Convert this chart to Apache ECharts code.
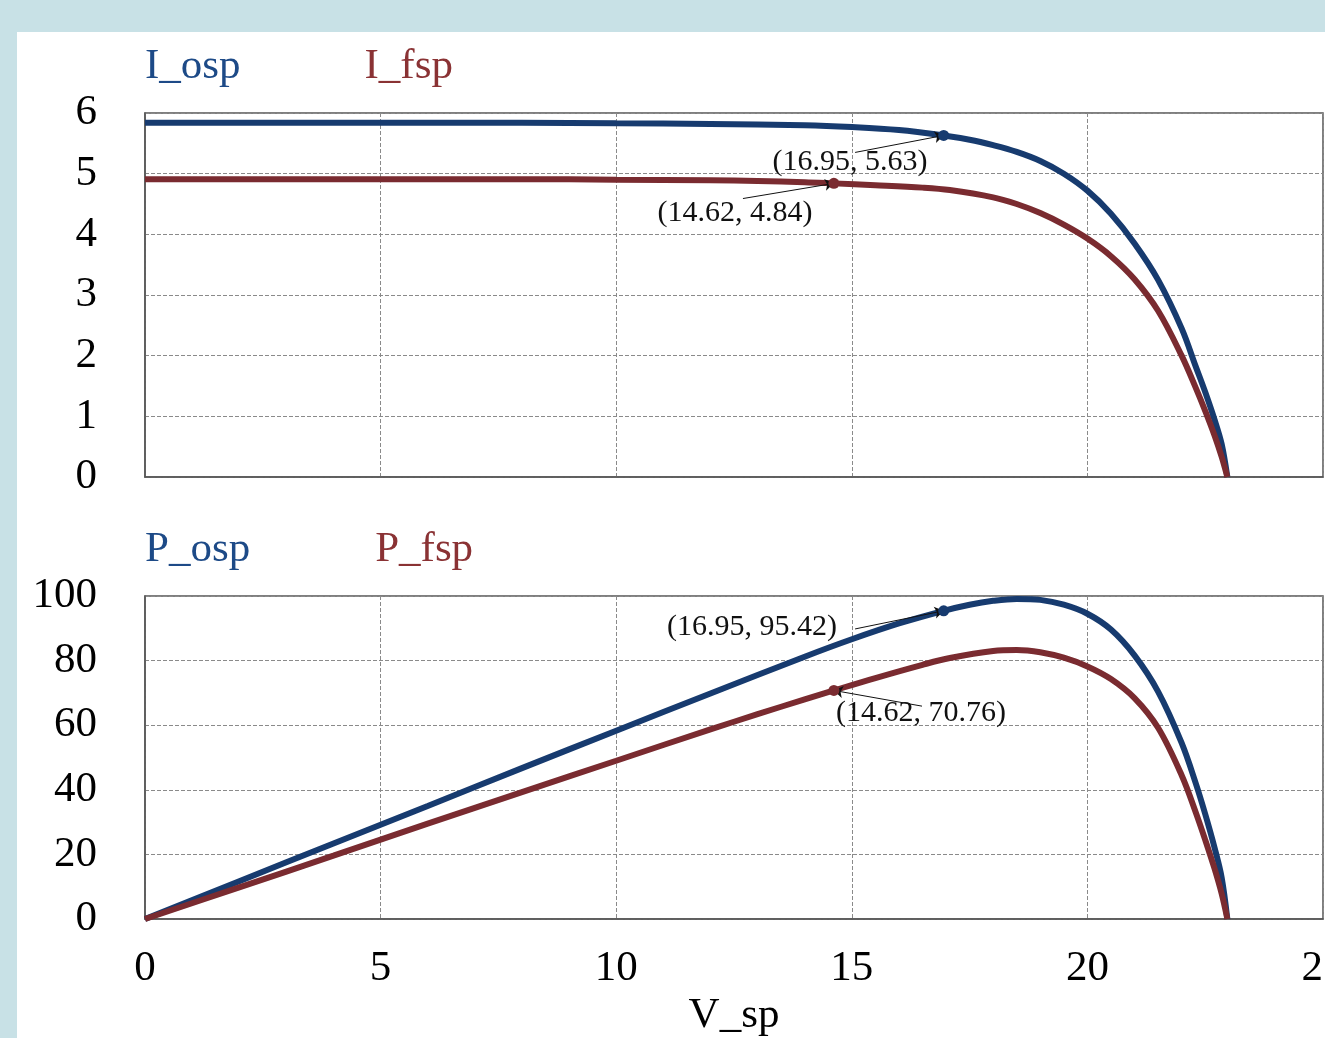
<!DOCTYPE html>
<html>
<head>
<meta charset="utf-8">
<title>I-V / P-V</title>
<script src="https://cdn.jsdelivr.net/npm/echarts/dist/echarts.min.js"></script>
<style>
  html, body { margin: 0; padding: 0; background: #c8e1e6; }
  .echarts_box { position: absolute; left: 17px; top: 32px; width: 1308px; height: 1006px; background: #fff; }
</style>
</head>
<body>
<div class="echarts_box"></div>
<script>
// values
var V_osp = [0, 2, 4, 6, 8, 10, 12, 14, 15, 16, 16.95, 17.5, 18, 18.5, 19, 19.5, 20, 20.5, 21, 21.5, 22, 22.3, 22.5, 22.7, 22.85, 22.97];
var I_osp = [5.84, 5.84, 5.84, 5.84, 5.84, 5.83, 5.82, 5.80, 5.77, 5.72, 5.63, 5.56, 5.47, 5.36, 5.21, 5.00, 4.72, 4.34, 3.85, 3.25, 2.45, 1.82, 1.40, 0.94, 0.54, 0];
var P_osp = [0, 11.7, 23.4, 35.0, 46.7, 58.3, 69.8, 81.2, 86.6, 91.5, 95.42, 97.3, 98.5, 99.1, 98.8, 97.3, 94.5, 89.6, 81.6, 70.4, 54.5, 42.0, 32.5, 22.0, 12.8, 0];

var V_fsp = [0, 2, 4, 6, 8, 10, 12, 13, 14, 14.62, 15.5, 16.5, 17.08, 18, 18.5, 19, 19.5, 20, 20.5, 21, 21.5, 22, 22.3, 22.5, 22.7, 22.85, 22.97];
var I_fsp = [4.91, 4.91, 4.91, 4.91, 4.91, 4.90, 4.89, 4.88, 4.86, 4.84, 4.81, 4.77, 4.73, 4.61, 4.50, 4.35, 4.16, 3.93, 3.64, 3.26, 2.74, 2.00, 1.47, 1.09, 0.68, 0.33, 0];
var P_fsp = [0, 9.8, 19.6, 29.5, 39.3, 49.0, 58.7, 63.4, 68.0, 70.76, 74.6, 78.7, 80.8, 83.0, 83.3, 82.6, 80.9, 78.2, 74.3, 68.4, 59.2, 44.5, 33.0, 24.5, 15.5, 7.8, 0];

var xTicks = [0, 5, 10, 15, 20, 25];
var mppOsp = [16.95, 5.63, 95.42];
var mppFsp = [14.62, 4.84, 70.76];

var blue = '#173b6f';
var red = '#7a2b30';
var font = '"Liberation Serif", "Times New Roman", serif';

function pairs(xs, ys) {
  var out = [];
  for (var i = 0; i < xs.length; i++) out.push([xs[i], ys[i]]);
  return out;
}

// dot on the curve, text near it and a thin arrow from the text to the dot
function tag(pt, at, start, color) {
  return {
    markPoint: {
      silent: true,
      data: [
        { coord: pt, symbol: 'circle', symbolSize: 11, itemStyle: { color: color }, label: { show: false } },
        { coord: at, symbol: 'circle', symbolSize: 0.01, itemStyle: { color: 'transparent' },
          label: { show: true, position: 'inside', color: '#111', fontFamily: font, fontSize: 30,
                   formatter: '(' + pt[0].toFixed(2) + ', ' + pt[1].toFixed(2) + ')' } }
      ]
    },
    markLine: {
      silent: true,
      symbol: ['none', 'arrow'],
      symbolSize: 9,
      label: { show: false },
      lineStyle: { color: '#111', width: 1, type: 'solid' },
      data: [[{ coord: start }, { coord: pt }]]
    }
  };
}

var echarts_box = echarts.init(document.querySelector('.echarts_box'));

var gridLine = { show: true, lineStyle: { color: '#8a8a8a', type: 'dashed', width: 1 } };
var axisLine = { show: true, lineStyle: { color: '#555', width: 1.5 } };
var tickFont = { color: '#000', fontFamily: font, fontSize: 43 };

function line(name, xs, ys, color, idx, t) {
  return {
    name: name, type: 'line', xAxisIndex: idx, yAxisIndex: idx,
    data: pairs(xs, ys), showSymbol: false, smooth: 0.35,
    lineStyle: { color: color, width: 6 }, itemStyle: { color: color }, z: 3,
    markPoint: t.markPoint, markLine: t.markLine
  };
}

var option = {
  animation: false,
  legend: [{
    left: 123, top: 13, padding: 0, icon: 'none', itemWidth: 0, itemGap: 119,
    textStyle: { fontFamily: font, fontSize: 43 },
    data: [{ name: 'I_osp', textStyle: { color: '#1d4a87' } }, { name: 'I_fsp', textStyle: { color: '#8a3234' } }]
  }, {
    left: 123, top: 496, padding: 0, icon: 'none', itemWidth: 0, itemGap: 120,
    textStyle: { fontFamily: font, fontSize: 43 },
    data: [{ name: 'P_osp', textStyle: { color: '#1d4a87' } }, { name: 'P_fsp', textStyle: { color: '#8a3234' } }]
  }],
  grid: [
    { left: 128, top: 81, width: 1178, height: 364, show: true, borderColor: '#555', borderWidth: 1.5, outerBoundsMode: 'none' },
    { left: 128, top: 564, width: 1178, height: 323, show: true, borderColor: '#555', borderWidth: 1.5, outerBoundsMode: 'none' }
  ],
  xAxis: [
    { type: 'value', gridIndex: 0, min: xTicks[0], max: xTicks[xTicks.length - 1], interval: 5,
      axisLine: axisLine, axisTick: { show: false }, axisLabel: { show: false }, splitLine: gridLine },
    { type: 'value', gridIndex: 1, min: xTicks[0], max: xTicks[xTicks.length - 1], interval: 5,
      name: 'V_sp', nameLocation: 'middle', nameGap: 75,
      nameTextStyle: { color: '#000', fontFamily: font, fontSize: 43 },
      axisLine: axisLine, axisTick: { show: false },
      axisLabel: Object.assign({ margin: 28, showMaxLabel: true }, tickFont), splitLine: gridLine }
  ],
  yAxis: [
    { type: 'value', gridIndex: 0, min: 0, max: 6, interval: 1,
      axisLine: axisLine, axisTick: { show: false }, axisLabel: Object.assign({ margin: 48 }, tickFont), splitLine: gridLine },
    { type: 'value', gridIndex: 1, min: 0, max: 100, interval: 20,
      axisLine: axisLine, axisTick: { show: false }, axisLabel: Object.assign({ margin: 48 }, tickFont), splitLine: gridLine }
  ],
  series: [
    line('I_osp', V_osp, I_osp, blue, 0, tag([mppOsp[0], mppOsp[1]], [14.96, 5.19], [15.07, 5.35], blue)),
    line('I_fsp', V_fsp, I_fsp, red, 0, tag([mppFsp[0], mppFsp[1]], [12.52, 4.35], [12.69, 4.59], red)),
    line('P_osp', V_osp, P_osp, blue, 1, tag([mppOsp[0], mppOsp[2]], [12.88, 90.4], [15.07, 89.8], blue)),
    line('P_fsp', V_fsp, P_fsp, red, 1, tag([mppFsp[0], mppFsp[2]], [16.47, 63.8], [16.49, 65.9], red))
  ]
};

echarts_box.setOption(option);
</script>
</body>
</html>
